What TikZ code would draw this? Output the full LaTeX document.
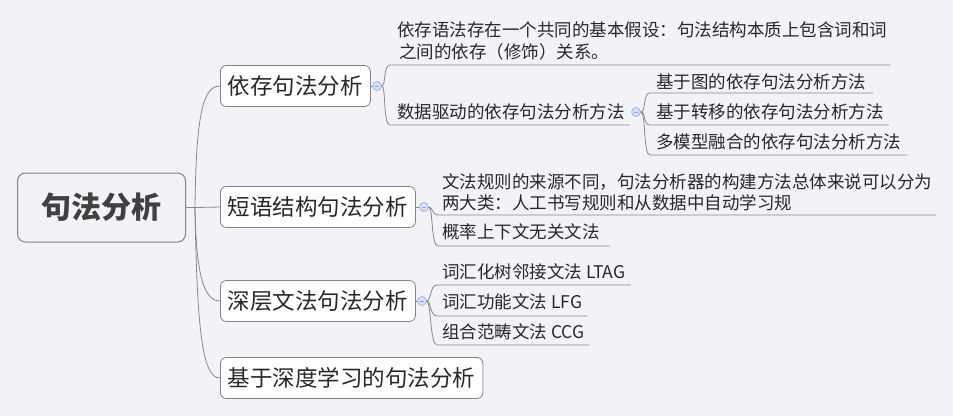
\documentclass[tikz,border=0pt]{standalone}
\usepackage{fontspec}
\setmainfont{Noto Sans CJK SC}
\usetikzlibrary{calc}
\definecolor{bg}{RGB}{243,243,247}
\definecolor{boxline}{RGB}{130,130,135}
\definecolor{linecol}{RGB}{135,135,140}
\definecolor{txt}{RGB}{40,40,40}
\definecolor{roottext}{RGB}{64,64,64}
\definecolor{foldline}{RGB}{150,170,215}
\definecolor{foldfill}{RGB}{214,224,246}
\begin{document}
\begin{tikzpicture}[x=1pt,y=-1pt,
  rootbox/.style={draw=boxline, line width=1pt, rounded corners=8pt, fill=bg,
    minimum width=168pt, minimum height=69pt, inner sep=0pt,
    font=\fontsize{30}{36}\selectfont\bfseries, text=roottext},
  branchbox/.style={draw=boxline, line width=0.8pt, rounded corners=6pt, fill=white,
    minimum height=41pt, inner xsep=7.5pt, inner ysep=0pt, anchor=west,
    font=\fontsize{22.5}{27}\selectfont, text=txt},
  leaf/.style={anchor=west, inner xsep=0pt, inner ysep=1pt,
    font=\fontsize{17.5}{22}\selectfont, text=txt, align=left},
  conn/.style={draw=linecol, line width=0.8pt},
  fold/.style={circle, draw=foldline, fill=foldfill, line width=0.6pt,
    minimum size=9pt, inner sep=0pt,
    path picture={\draw[foldline, line width=0.8pt]
      ([xshift=-2.3pt]path picture bounding box.center) --
      ([xshift=2.3pt]path picture bounding box.center);}}
]
\fill[bg] (0,0) rectangle (953,416);
\useasboundingbox (0,0) rectangle (953,416);

% root and branches
\node[rootbox] (root) at (101.5,207.5) {句法分析};
\node[branchbox] (b1) at (220,86) {依存句法分析};
\node[branchbox] (b2) at (220,207) {短语结构句法分析};
\node[branchbox] (b3) at (220,301) {深层文法句法分析};
\node[branchbox] (b4) at (220,378) {基于深度学习的句法分析};

% leaves
\node[leaf] (t11) at (397,41) {依存语法存在一个共同的基本假设：句法结构本质上包含词和词\\[-0.5pt]\hspace{2pt}之间的依存（修饰）关系。};
\node[leaf] (t12) at (397,112) {数据驱动的依存句法分析方法};
\node[leaf] (t121) at (656,82) {基于图的依存句法分析方法};
\node[leaf] (t122) at (656,112) {基于转移的依存句法分析方法};
\node[leaf] (t123) at (656,142) {多模型融合的依存句法分析方法};
\node[leaf] (t21) at (442,192.5) {文法规则的来源不同，句法分析器的构建方法总体来说可以分为\\[-1pt]两大类：人工书写规则和从数据中自动学习规};
\node[leaf] (t22) at (442,232) {概率上下文无关文法};
\node[leaf] (t31) at (442,272) {词汇化树邻接文法 LTAG};
\node[leaf] (t32) at (442,302) {词汇功能文法 LFG};
\node[leaf] (t33) at (442,332) {组合范畴文法 CCG};

% root connectors
\coordinate (rj) at (195,207.5);
\draw[conn] (root.east) -- (rj);
\draw[conn] (rj) .. controls (196,110) and (204,86) .. (b1.west);
\draw[conn] (rj) -- (b2.west);
\draw[conn] (rj) .. controls (196,275) and (204,301) .. (b3.west);
\draw[conn] (rj) .. controls (197,335) and (203,378) .. (b4.west);

% underline start points
\coordinate (u11) at (390,65);
\coordinate (u12) at (390,125);
\coordinate (u121) at (650,93);
\coordinate (u122) at (650,125);
\coordinate (u123) at (650,155);
\coordinate (u21) at (438,215);
\coordinate (u22) at (438,246);
\coordinate (u31) at (437,285);
\coordinate (u32) at (437,316);
\coordinate (u33) at (437,345);

% fold circles
\draw[conn] (b1.east) -- (377,86);
\draw[conn] (b2.east) -- (424,207);
\draw[conn] (b3.east) -- (422,301);
\node[fold] (c1) at (377,86) {};
\node[fold] (c12) at (636,112) {};
\node[fold] (c2) at (424,207) {};
\node[fold] (c3) at (422,301) {};

% brackets with underlines
\draw[conn] (c1.east) .. controls (386,86) and (383,65) .. (u11) -- ($(u11 -| t11.east)+(3,0)$);
\draw[conn] (c1.east) .. controls (386,86) and (383,125) .. (u12) -- ($(u12 -| t12.east)+(5,0)$);
\draw[conn] (c12.east) .. controls (646,112) and (643,93) .. (u121) -- ($(u121 -| t121.east)+(7,0)$);
\draw[conn] (c12.east) .. controls (646,112) and (643,125) .. (u122) -- ($(u122 -| t122.east)+(5,0)$);
\draw[conn] (c12.east) .. controls (646,112) and (643,155) .. (u123) -- ($(u123 -| t123.east)+(6,0)$);
\draw[conn] (c2.east) .. controls (433,207) and (432,215) .. (u21) -- ($(u21 -| t21.east)+(4,0)$);
\draw[conn] (c2.east) .. controls (433,207) and (431,246) .. (u22) -- ($(u22 -| t22.east)+(10,0)$);
\draw[conn] (c3.east) .. controls (431,301) and (430,285) .. (u31) -- ($(u31 -| t31.east)+(5,0)$);
\draw[conn] (c3.east) .. controls (431,301) and (430,316) .. (u32) -- ($(u32 -| t32.east)+(5,0)$);
\draw[conn] (c3.east) .. controls (431,301) and (430,345) .. (u33) -- ($(u33 -| t33.east)+(5,0)$);
\end{tikzpicture}
\end{document}
